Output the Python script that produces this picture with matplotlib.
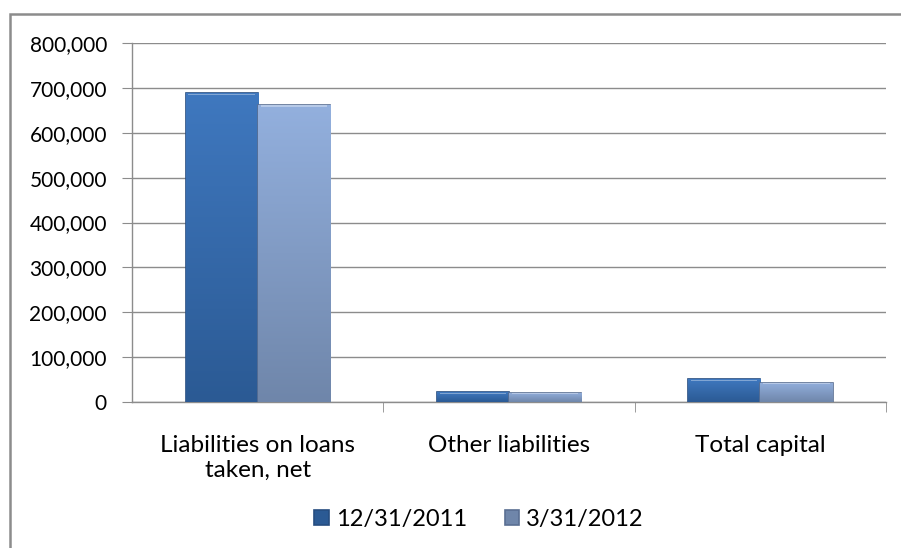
import matplotlib
matplotlib.use("Agg")
import matplotlib.pyplot as plt
import numpy as np
from matplotlib.patches import Rectangle
from matplotlib.ticker import FuncFormatter

categories = ["Liabilities on loans\ntaken, net", "Other liabilities", "Total capital"]
series_names = ["12/31/2011", "3/31/2012"]
values_2011 = [688000, 22000, 51000]
values_2012 = [662000, 21000, 43000]

plt.rcParams["font.family"] = ["Lato", "DejaVu Sans"]

fig = plt.figure(figsize=(9.01, 5.48), dpi=100)
ax = fig.add_axes([0.1465, 0.2664, 0.8369, 0.6551])

# outer chart frame (gray line top and left)
fig.add_artist(Rectangle((10 / 901, -0.1), 1.2, (548 - 14) / 548 + 0.1,
                         transform=fig.transFigure, fill=False,
                         edgecolor="#8c8c8c", linewidth=1.8))

x = np.arange(len(categories))
width = 0.287
styles = [
    dict(top="#3f78bf", bottom="#2b5a94", edge="#264d80"),
    dict(top="#93b0de", bottom="#6f86aa", edge="#5a6f92"),
]


def gradient_bars(bars, top, bottom):
    cmap = matplotlib.colors.LinearSegmentedColormap.from_list("g", [bottom, top])
    grad = np.linspace(0, 1, 256).reshape(-1, 1)
    for b in bars:
        x0, y0 = b.get_x(), b.get_y()
        w, h = b.get_width(), b.get_height()
        im = ax.imshow(grad, cmap=cmap, aspect="auto", origin="lower",
                       extent=(x0, x0 + w, y0, y0 + h), zorder=3)
        im.set_clip_path(b)
        # light bevel at the top
        ax.add_patch(Rectangle((x0 + w * 0.04, y0 + h - 3500), w * 0.92, 2500,
                               facecolor="white", alpha=0.35, linewidth=0, zorder=4))


for i, (vals, st) in enumerate(zip([values_2011, values_2012], styles)):
    bars = ax.bar(x + (i - 0.5) * width, vals, width, facecolor=st["bottom"],
                  edgecolor=st["edge"], linewidth=1.2, zorder=3, label=series_names[i])
    gradient_bars(bars, st["top"], st["bottom"])

ax.set_xlim(-0.5, 2.5)
ax.set_ylim(0, 800000)
ax.set_yticks(np.arange(0, 800001, 100000))
ax.yaxis.set_major_formatter(FuncFormatter(lambda v, p: f"{int(v):,}"))
ax.grid(axis="y", color="#8c8c8c", linewidth=1.0, zorder=0)
ax.set_axisbelow(True)

ax.set_xticks(x)
ax.set_xticklabels(categories, linespacing=1.2)
ax.set_xticks([0.5, 1.5, 2.5], minor=True)
ax.tick_params(axis="x", which="major", length=0, pad=24, labelsize=17.5)
ax.tick_params(axis="x", which="minor", length=7, color="#8c8c8c")
ax.tick_params(axis="y", length=7, color="#8c8c8c", labelsize=15, pad=11)

for s in ["top", "right"]:
    ax.spines[s].set_visible(False)
for s in ["left", "bottom"]:
    ax.spines[s].set_color("#8c8c8c")
    ax.spines[s].set_linewidth(1.0)

leg = ax.legend(loc="center", bbox_to_anchor=(0.46, -0.326), ncol=2, frameon=False,
                fontsize=17, handlelength=0.6, handleheight=0.6, columnspacing=1.6,
                handletextpad=0.3)

fig.savefig("out.png", dpi=100)
